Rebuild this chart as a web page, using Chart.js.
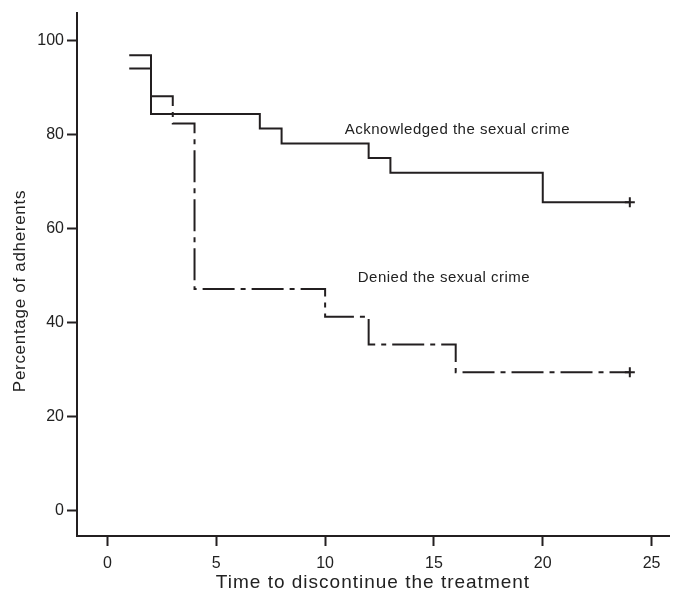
<!DOCTYPE html>
<html lang="en">
<head>
<meta charset="UTF-8">
<title>Time to discontinue the treatment</title>
<script src="https://cdn.jsdelivr.net/npm/chart.js"></script>
<style>
    body { margin: 0; background: #fff; }
    canvas { display: block; }
</style>
</head>
<body>
<canvas id="kmChart" width="676" height="599"></canvas>
<script>
// survival steps (time, % adherents)
const ackTimes = [1, 2, 7, 8, 12, 13, 20, 24];
const ackValues = [96.9, 84.4, 81.3, 78.1, 75.0, 71.9, 65.6, 65.6];
const denTimes = [1, 2, 3, 4, 10, 12, 16, 24];
const denValues = [94.1, 88.2, 82.4, 47.1, 41.2, 35.3, 29.4, 29.4];

const seriesLabels = ["Acknowledged the sexual crime", "Denied the sexual crime"];
const noteX = [10.9, 11.5];
const noteY = [81.1, 49.4];

const xTitle = "Time to discontinue the treatment";
const yTitle = "Percentage of adherents";

const ink = "#231f20";

function toPoints(xs, ys) {
    return xs.map((x, i) => ({ x: x, y: ys[i] }));
}
// only the last point is censored -> show a cross
function censorRadius(xs) {
    return xs.map((x, i) => i === xs.length - 1 ? 5 : 0);
}

const labelsPlugin = {
    id: "labels",
    afterDraw(chart) {
        const ctx = chart.ctx;
        const xs = chart.scales.x, ys = chart.scales.y;
        ctx.save();
        ctx.fillStyle = "#222";
        ctx.font = "15px 'Liberation Sans', Arial, sans-serif";
        ctx.letterSpacing = "0.5px";
        ctx.textAlign = "left";
        ctx.textBaseline = "middle";
        seriesLabels.forEach((t, i) => {
            ctx.fillText(t, xs.getPixelForValue(noteX[i]), ys.getPixelForValue(noteY[i]));
        });

        ctx.font = "19px 'Liberation Sans', Arial, sans-serif";
        ctx.letterSpacing = "1px";
        ctx.textAlign = "center";
        ctx.fillText(xTitle, (chart.chartArea.left + chart.chartArea.right) / 2, 583);

        ctx.font = "17px 'Liberation Sans', Arial, sans-serif";
        ctx.letterSpacing = "0.7px";
        ctx.translate(20, 291);
        ctx.rotate(-Math.PI / 2);
        ctx.fillText(yTitle, 0, 0);
        ctx.restore();
    }
};

new Chart(document.getElementById("kmChart"), {
    type: "line",
    data: {
        datasets: [{
            label: seriesLabels[0],
            data: toPoints(ackTimes, ackValues),
            stepped: true,
            borderColor: ink,
            borderWidth: 2,
            fill: false,
            pointStyle: "cross",
            pointRadius: censorRadius(ackTimes),
            pointBorderColor: ink,
            pointBorderWidth: 2
        }, {
            label: seriesLabels[1],
            data: toPoints(denTimes, denValues),
            stepped: true,
            borderColor: ink,
            borderWidth: 2,
            borderDash: [32, 6, 5, 6],
            fill: false,
            pointStyle: "cross",
            pointRadius: censorRadius(denTimes),
            pointBorderColor: ink,
            pointBorderWidth: 2
        }]
    },
    options: {
        responsive: false,
        animation: false,
        layout: { padding: { top: 10, right: 6, left: 0, bottom: 0 } },
        plugins: {
            legend: { display: false },
            tooltip: { enabled: false }
        },
        scales: {
            x: {
                type: "linear",
                min: -1.4,
                max: 25.8,
                border: { display: true, color: ink, width: 2 },
                grid: { drawOnChartArea: false, drawTicks: true, tickLength: 10, tickWidth: 2, tickColor: ink },
                ticks: {
                    stepSize: 5,
                    includeBounds: false,
                    padding: 8,
                    color: "#222",
                    font: { family: "'Liberation Sans', Arial, sans-serif", size: 16 }
                },
                afterFit(scale) { scale.height = 63; }
            },
            y: {
                min: -5.5,
                max: 106,
                border: { display: true, color: ink, width: 2 },
                grid: { drawOnChartArea: false, drawTicks: true, tickLength: 10, tickWidth: 2, tickColor: ink },
                ticks: {
                    stepSize: 20,
                    includeBounds: false,
                    padding: 3,
                    color: "#222",
                    font: { family: "'Liberation Sans', Arial, sans-serif", size: 16 }
                },
                afterFit(scale) { scale.width = 77; }
            }
        }
    },
    plugins: [labelsPlugin]
});
</script>
</body>
</html>
